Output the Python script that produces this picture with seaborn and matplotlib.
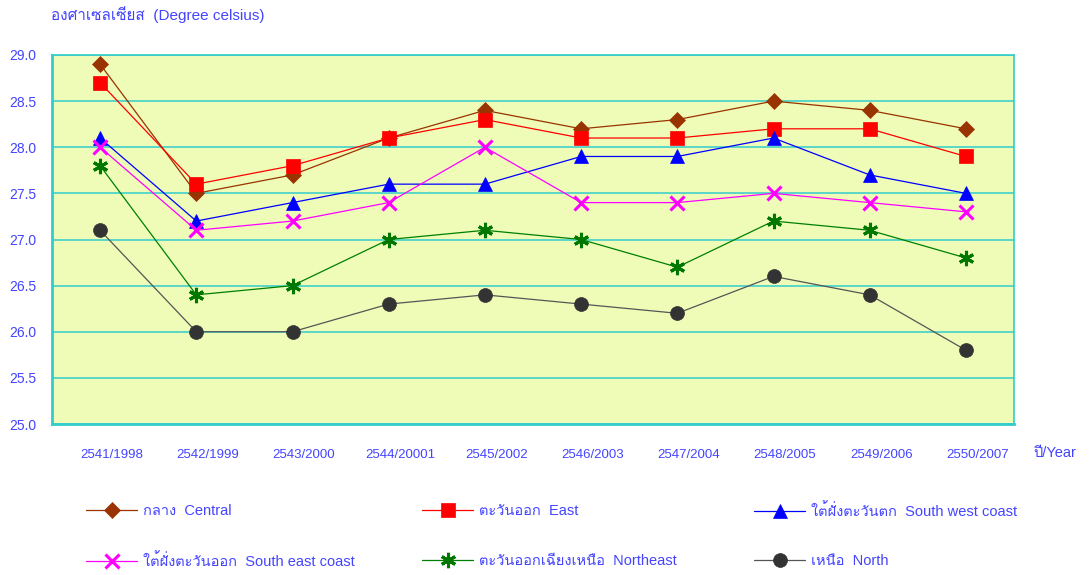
import numpy as np
import pandas as pd
import matplotlib
matplotlib.use('Agg')
import matplotlib.pyplot as plt
import seaborn as sns
from matplotlib import font_manager
from matplotlib.lines import Line2D

# Data
years = ['2541/1998', '2542/1999', '2543/2000', '2544/20001', '2545/2002',
         '2546/2003', '2547/2004', '2548/2005', '2549/2006', '2550/2007']
central = [28.9, 27.5, 27.7, 28.1, 28.4, 28.2, 28.3, 28.5, 28.4, 28.2]
east = [28.7, 27.6, 27.8, 28.1, 28.3, 28.1, 28.1, 28.2, 28.2, 27.9]
south_west = [28.1, 27.2, 27.4, 27.6, 27.6, 27.9, 27.9, 28.1, 27.7, 27.5]
south_east = [28.0, 27.1, 27.2, 27.4, 28.0, 27.4, 27.4, 27.5, 27.4, 27.3]
northeast = [27.8, 26.4, 26.5, 27.0, 27.1, 27.0, 26.7, 27.2, 27.1, 26.8]
north = [27.1, 26.0, 26.0, 26.3, 26.4, 26.3, 26.2, 26.6, 26.4, 25.8]

labels = ['กลาง  Central', 'ตะวันออก  East', 'ใต้ฝั่งตะวันตก  South west coast',
          'ใต้ฝั่งตะวันออก  South east coast', 'ตะวันออกเฉียงเหนือ  Northeast', 'เหนือ  North']
series = [central, east, south_west, south_east, northeast, north]
colors = ['#993300', '#ff0000', '#0000ff', '#ff00ff', '#007700', '#333333']
line_colors = ['#993300', '#ff0000', '#0000ff', '#ff00ff', '#008000', '#555555']
markers = ['D', 's', '^', 'x', (6, 2, 0), 'o']
msizes = [8, 10, 10, 10, 11, 10]

# find a font that has Thai glyphs
thai_family = None
for f in font_manager.fontManager.ttflist:
    try:
        if 0x0E01 in font_manager.get_font(f.fname).get_charmap():
            thai_family = f.name
            break
    except Exception:
        pass

sns.set_style('white')
fams = ['Liberation Sans']
if thai_family:
    fams.append(thai_family)
fams.append('DejaVu Sans')
plt.rcParams['font.family'] = fams

txt = '#4444ff'
grid_c = '#33cccc'

df = pd.DataFrame({'x': np.tile(np.arange(len(years)), len(series)),
                   'temp': np.concatenate(series),
                   'region': np.repeat(labels, len(years))})

fig = plt.figure(figsize=(10.91, 5.75), dpi=100)
ax = fig.add_axes([52 / 1091, 1 - 424 / 575, (1014 - 52) / 1091, (424 - 55) / 575])
ax.set_facecolor('#eefcb8')

for lab, col, lc, mk, ms in zip(labels, colors, line_colors, markers, msizes):
    sub = df[df['region'] == lab]
    mew = 2.2 if mk in ('x', (6, 2, 0)) else 0.5
    sns.lineplot(data=sub, x='x', y='temp', ax=ax, color=lc, linewidth=0.9,
                 marker=mk, markersize=ms, markerfacecolor=col, markeredgecolor=col,
                 markeredgewidth=mew, legend=False, zorder=3)

ax.set_xlim(-0.5, len(years) - 0.5)
ax.set_ylim(25.0, 29.0)
ax.set_yticks(np.arange(25.0, 29.01, 0.5))
ax.set_yticklabels([f'{v:.1f}' for v in np.arange(25.0, 29.01, 0.5)], color=txt, fontsize=10)
ax.yaxis.grid(True, color=grid_c, linewidth=1.1)
ax.set_axisbelow(True)
ax.set_xticks(np.arange(-0.5, len(years), 0.5))
ax.set_xticklabels([])
ax.tick_params(axis='x', length=6, color=grid_c, width=1.2, direction='out')
ax.tick_params(axis='y', length=0, pad=11)
ax.set_xlabel('')
ax.set_ylabel('')
for s in ax.spines.values():
    s.set_color(grid_c)
    s.set_linewidth(1.2)
ax.spines['left'].set_linewidth(2)
ax.spines['bottom'].set_linewidth(2)

for i, y in enumerate(years):
    ax.text(i + 0.12, -0.085, y, transform=ax.get_xaxis_transform(), ha='center', va='center',
            color=txt, fontsize=9.5)
fig.text(1055 / 1091, 1 - 453 / 575, 'ปี/Year', ha='center', va='center', color=txt, fontsize=10.5)
fig.text(51 / 1091, 1 - 15 / 575, 'องศาเซลเซียส  (Degree celsius)', ha='left', va='center',
         color=txt, fontsize=11)

# legend: one small legend per entry, three columns of two rows
col_x = [86, 422, 754]
row_y = [511, 561]
for i, (lab, col, lc, mk, ms) in enumerate(zip(labels, colors, line_colors, markers, msizes)):
    mew = 2.2 if mk in ('x', (6, 2, 0)) else 0.5
    h = Line2D([], [], color=lc, linewidth=0.9, marker=mk, markersize=ms,
               markerfacecolor=col, markeredgecolor=col, markeredgewidth=mew)
    leg = fig.legend([h], [lab], loc='center left',
                     bbox_to_anchor=(col_x[i % 3] / 1091, 1 - row_y[i // 3] / 575), frameon=False,
                     fontsize=10.5, handlelength=3.5, handletextpad=0.4,
                     borderpad=0, borderaxespad=0)
    for t in leg.get_texts():
        t.set_color(txt)

fig.savefig('out.png', dpi=100)
